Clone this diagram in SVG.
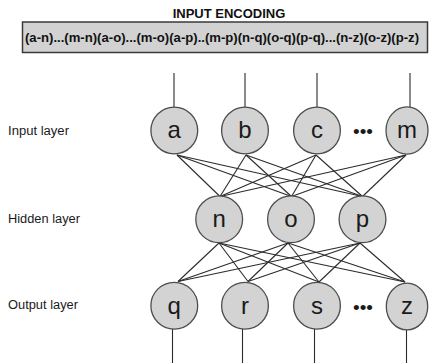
<svg xmlns="http://www.w3.org/2000/svg" width="429" height="363" viewBox="0 0 429 363">
  <style>
    .node { fill: #d3d3d3; stroke: #4d4d4d; stroke-width: 1.3; }
    .lbl { font-family: "Liberation Sans", Arial, sans-serif; font-size: 24px; fill: #1a1a1a; text-anchor: middle; }
    .layer { font-family: "Liberation Sans", Arial, sans-serif; font-size: 12px; fill: #1a1a1a; }
    .dots { font-family: "Liberation Sans", Arial, sans-serif; font-size: 19px; fill: #1a1a1a; text-anchor: middle; }
    .edge { stroke: #2b2b2b; stroke-width: 1.1; fill: none; }
    .title { font-family: "Liberation Sans", Arial, sans-serif; font-size: 13px; font-weight: bold; fill: #111; text-anchor: middle; }
    .enc { font-family: "Liberation Sans", Arial, sans-serif; font-size: 13px; font-weight: bold; fill: #111; }
  </style>

  <!-- header: encoding of the weight vector -->
  <g id="encoding">
    <text class="title" x="229" y="18">INPUT ENCODING</text>
    <rect x="22.5" y="22" width="405" height="30.5" fill="#d2d2d2" stroke="#3a3a3a" stroke-width="1.5"/>
    <text class="enc" x="25" y="41.5" textLength="394" lengthAdjust="spacingAndGlyphs">(a-n)...(m-n)(a-o)...(m-o)(a-p)..(m-p)(n-q)(o-q)(p-q)...(n-z)(o-z)(p-z)</text>
  </g>

  <!-- layer captions -->
  <g id="captions">
    <text class="layer" x="8" y="134.5" textLength="61" lengthAdjust="spacingAndGlyphs">Input layer</text>
    <text class="layer" x="8" y="223" textLength="72" lengthAdjust="spacingAndGlyphs">Hidden layer</text>
    <text class="layer" x="8" y="309" textLength="70" lengthAdjust="spacingAndGlyphs">Output layer</text>
  </g>

  <!-- connectors -->
  <g id="connectors" class="edge">
    <!-- inputs feeding in -->
    <line x1="174" y1="73" x2="174" y2="107"/>
    <line x1="245" y1="73" x2="245" y2="107"/>
    <line x1="317" y1="73" x2="317" y2="107"/>
    <line x1="410" y1="73" x2="410" y2="107"/>
    <!-- input layer to hidden layer -->
    <line x1="177" y1="155" x2="220" y2="196.5"/>
    <line x1="177" y1="155" x2="291.5" y2="196.5"/>
    <line x1="177" y1="155" x2="362.5" y2="196.5"/>
    <line x1="246" y1="155" x2="220" y2="196.5"/>
    <line x1="246" y1="155" x2="291.5" y2="196.5"/>
    <line x1="246" y1="155" x2="362.5" y2="196.5"/>
    <line x1="316" y1="155" x2="220" y2="196.5"/>
    <line x1="316" y1="155" x2="291.5" y2="196.5"/>
    <line x1="316" y1="155" x2="362.5" y2="196.5"/>
    <line x1="406" y1="155" x2="220" y2="196.5"/>
    <line x1="406" y1="155" x2="291.5" y2="196.5"/>
    <line x1="406" y1="155" x2="362.5" y2="196.5"/>
    <!-- hidden layer to output layer -->
    <line x1="219" y1="243" x2="178" y2="281.5"/>
    <line x1="219" y1="243" x2="248" y2="281.5"/>
    <line x1="219" y1="243" x2="319" y2="282"/>
    <line x1="219" y1="243" x2="405" y2="282"/>
    <line x1="288" y1="243" x2="178" y2="281.5"/>
    <line x1="288" y1="243" x2="248" y2="281.5"/>
    <line x1="288" y1="243" x2="319" y2="282"/>
    <line x1="288" y1="243" x2="405" y2="282"/>
    <line x1="360" y1="243" x2="178" y2="281.5"/>
    <line x1="360" y1="243" x2="248" y2="281.5"/>
    <line x1="360" y1="243" x2="319" y2="282"/>
    <line x1="360" y1="243" x2="405" y2="282"/>
    <!-- outputs leaving -->
    <line x1="172.5" y1="329" x2="172.5" y2="363"/>
    <line x1="242.5" y1="329" x2="242.5" y2="363"/>
    <line x1="314.5" y1="329" x2="314.5" y2="363"/>
    <line x1="406.5" y1="330" x2="406.5" y2="363"/>
  </g>

  <!-- input layer -->
  <g id="node-a"><circle class="node" cx="174.3" cy="130.5" r="23.4"/><text class="lbl" x="174.3" y="138">a</text></g>
  <g id="node-b"><circle class="node" cx="245" cy="130.5" r="23.4"/><text class="lbl" x="245" y="138">b</text></g>
  <g id="node-c"><circle class="node" cx="317" cy="130.5" r="23.4"/><text class="lbl" x="317" y="138">c</text></g>
  <text class="dots" x="363" y="138">•••</text>
  <g id="node-m"><ellipse class="node" cx="407" cy="130.5" rx="21" ry="23.6"/><text class="lbl" x="407" y="138">m</text></g>

  <!-- hidden layer -->
  <g id="node-n"><circle class="node" cx="219.2" cy="219.3" r="23.4"/><text class="lbl" x="219.2" y="227">n</text></g>
  <g id="node-o"><circle class="node" cx="291" cy="219.3" r="23.4"/><text class="lbl" x="291" y="227">o</text></g>
  <g id="node-p"><circle class="node" cx="362.5" cy="219.3" r="23.4"/><text class="lbl" x="362.5" y="227">p</text></g>

  <!-- output layer -->
  <g id="node-q"><circle class="node" cx="174.3" cy="305.7" r="23.4"/><text class="lbl" x="174.3" y="313.5">q</text></g>
  <g id="node-r"><circle class="node" cx="245" cy="305.7" r="23.4"/><text class="lbl" x="245" y="313.5">r</text></g>
  <g id="node-s"><circle class="node" cx="317" cy="305.7" r="23.4"/><text class="lbl" x="317" y="313.5">s</text></g>
  <text class="dots" x="363" y="313.5">•••</text>
  <g id="node-z"><ellipse class="node" cx="407" cy="306.5" rx="20.7" ry="23.4"/><text class="lbl" x="407" y="314">z</text></g>
</svg>
